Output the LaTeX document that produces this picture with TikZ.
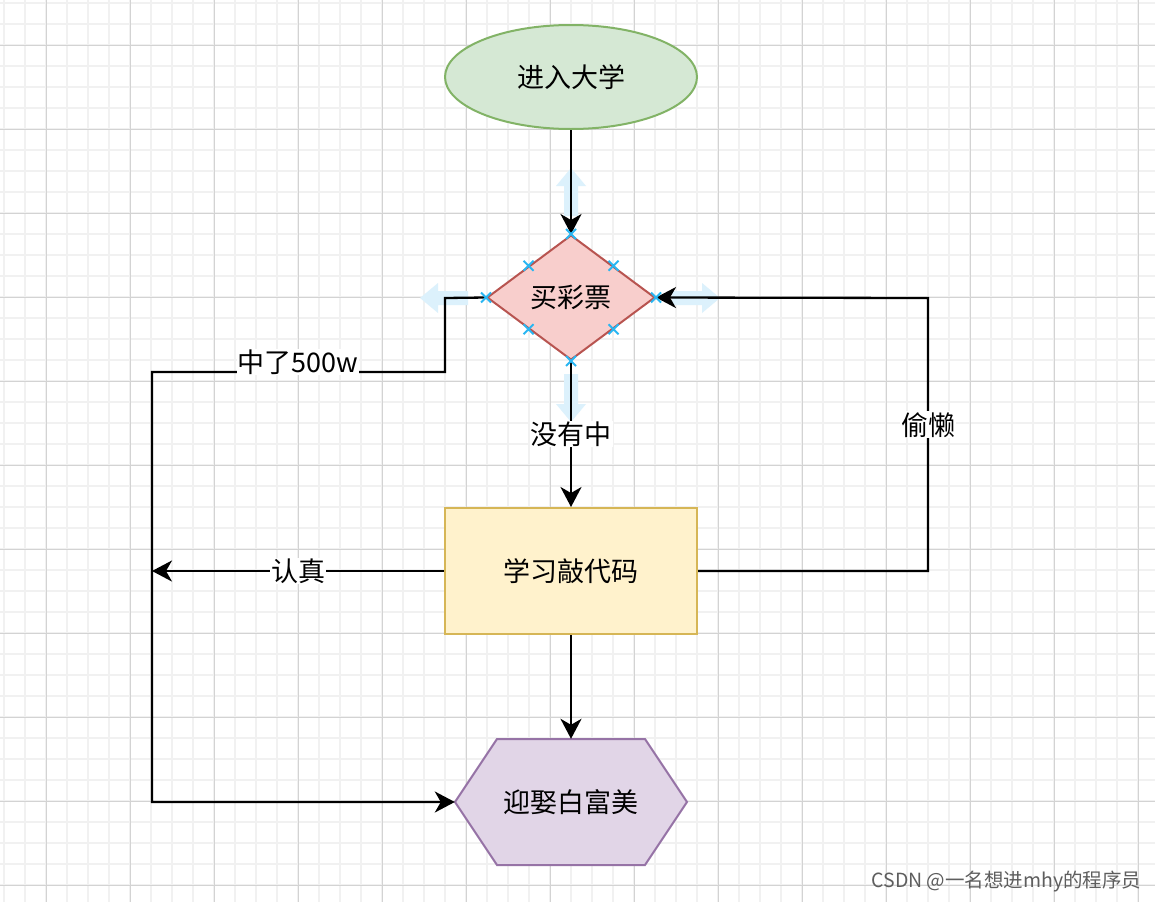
\documentclass[tikz,border=0pt]{standalone}
\usepackage{fontspec}
\setmainfont{Noto Sans CJK SC}
\usetikzlibrary{shapes.geometric,arrows.meta,calc}
\definecolor{gridminor}{HTML}{F1F1F1}
\definecolor{gridmajor}{HTML}{D3D3D3}
\definecolor{gfill}{HTML}{D5E8D4}
\definecolor{gline}{HTML}{82B366}
\definecolor{rfill}{HTML}{F8CECC}
\definecolor{rline}{HTML}{B85450}
\definecolor{yfill}{HTML}{FFF2CC}
\definecolor{yline}{HTML}{D6B656}
\definecolor{pfill}{HTML}{E1D5E7}
\definecolor{pline}{HTML}{9673A6}
\definecolor{hoverblue}{HTML}{DCF1FC}
\definecolor{xblue}{HTML}{29B6F2}
\definecolor{wmgray}{HTML}{5E5E5E}
\tikzset{
  txt/.style={font=\fontsize{27}{32}\selectfont, inner sep=0pt},
  shp/.style={txt, line width=2pt},
  conn/.style={line width=2.3pt, draw=black},
  arr/.style={conn, -{Stealth[length=20pt,width=21pt,inset=6pt]}},
  lbl/.style={txt, fill=white, inner sep=1pt},
  hov/.style={fill=hoverblue},
  xm/.style={draw=xblue, line width=1.8pt},
}
\begin{document}
\begin{tikzpicture}[x=1pt,y=-1pt]
\useasboundingbox (0,0) rectangle (1155,902);
\fill[white] (0,0) rectangle (1155,902);
% grid
\foreach \gx in {4,25,...,1155} \draw[gridminor, line width=2pt] (\gx,0) -- (\gx,902);
\foreach \gy in {3,24,...,902} \draw[gridminor, line width=2pt] (0,\gy) -- (1155,\gy);
\foreach \gx in {46,130,...,1155} \draw[gridmajor, line width=1pt] (\gx,0) -- (\gx,902);
\foreach \gy in {45,129,...,902} \draw[gridmajor, line width=1pt] (0,\gy) -- (1155,\gy);

% shapes
\node[shp, ellipse, draw=gline, fill=gfill, minimum width=252, minimum height=104] (e) at (571,77) {进入大学};
\node[shp, diamond, draw=rline, fill=rfill, minimum width=168, minimum height=125] (d) at (571,297.5) {买彩票};
\node[shp, rectangle, draw=yline, fill=yfill, minimum width=252, minimum height=126] (r) at (571,571) {学习敲代码};
\path[line width=2pt, draw=pline, fill=pfill] (455,802) -- (497,739) -- (645,739) -- (687,802) -- (645,865) -- (497,865) -- cycle;
\node[txt, minimum width=232, minimum height=126] (h) at (571,802) {迎娶白富美};

% hover arrows
\path[hov] (571,168) -- (556,186) -- (564,186) -- (564,216) -- (578,216) -- (578,186) -- (586,186) -- cycle;
\path[hov] (571,422) -- (556,404) -- (564,404) -- (564,374) -- (578,374) -- (578,404) -- (586,404) -- cycle;
\path[hov] (420,298) -- (438,283) -- (438,291) -- (468,291) -- (468,305) -- (438,305) -- (438,313) -- cycle;
\path[hov] (720,298) -- (702,283) -- (702,291) -- (672,291) -- (672,305) -- (702,305) -- (702,313) -- cycle;

% waypoints
\coordinate (w1) at (445,298);
\coordinate (w2) at (445,372);
\coordinate (w3) at (152,372);
\coordinate (w4) at (152,802);
\coordinate (lc) at (152,571);
\coordinate (v1) at (928,571);
\coordinate (v2) at (928,298);

% connectors
\draw[arr] (e.south) -- (d.north);
\draw[arr] (d.south) -- node[lbl] (l1) {没有中} (r.north);
\draw[arr] (r.west) -- node[lbl] (l2) {认真} (lc);
\draw[arr] (d.west) -- (w1) -- (w2) -- (w3) -- (w4) -- (h.west);
\node[lbl] (l3) at (298,362) {中了500w};
\draw[arr] (r.east) -- (v1) -- node[lbl, pos=0.535] (l4) {偷懒} (v2) -- (d.east);
\draw[arr] (r.south) -- (h.north);

% connection markers on the diamond
\coordinate (dne) at ($(d.north)!0.5!(d.east)$);
\coordinate (dnw) at ($(d.north)!0.5!(d.west)$);
\coordinate (dse) at ($(d.south)!0.5!(d.east)$);
\coordinate (dsw) at ($(d.south)!0.5!(d.west)$);
\foreach \p in {d.north,d.south,d.east,d.west,dne,dnw,dse,dsw}
  \draw[xm] ($(\p)+(-5,-5)$) -- ($(\p)+(5,5)$) ($(\p)+(-5,5)$) -- ($(\p)+(5,-5)$);

% watermark
\node[font=\fontsize{19.5}{23}\selectfont, text=wmgray, inner sep=0pt] (wm) at (1006.5,882) {CSDN @一名想进mhy的程序员};
\end{tikzpicture}
\end{document}
